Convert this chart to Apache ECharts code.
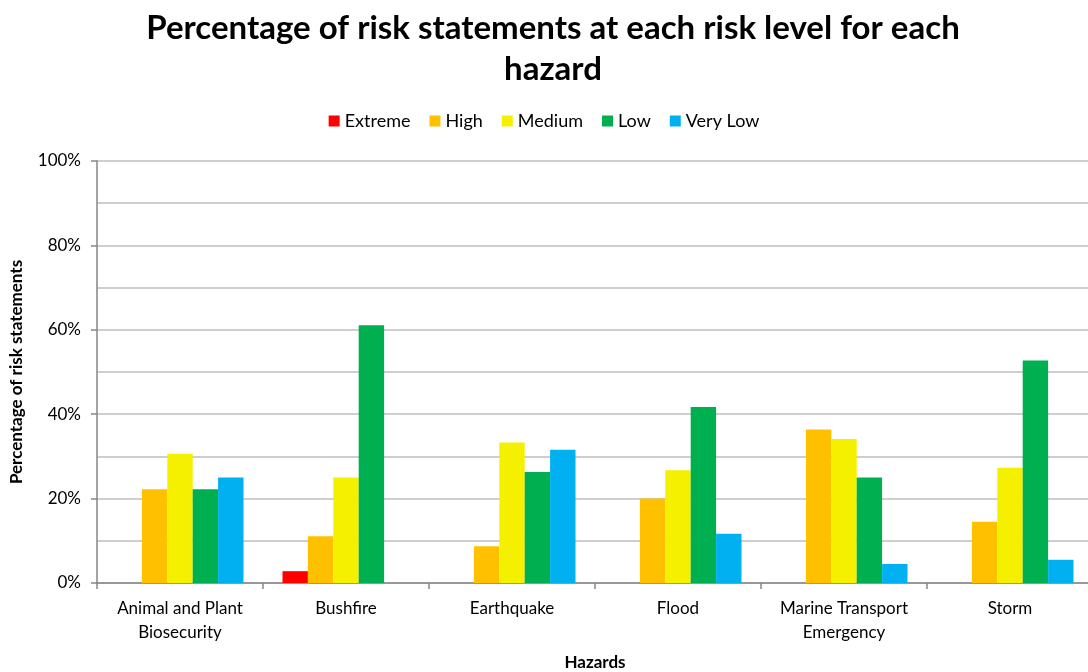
<!DOCTYPE html>
<html>
<head>
<meta charset="utf-8">
<script src="https://cdn.jsdelivr.net/npm/echarts@6/dist/echarts.min.js"></script>
<style>
  html, body { margin: 0; padding: 0; background: #ffffff; }
  #chart { width: 1088px; height: 672px; }
</style>
</head>
<body>
<div id="chart"></div>
<script>
// Hazard categories (x axis)
const hazards = [
  'Animal and Plant\nBiosecurity',
  'Bushfire',
  'Earthquake',
  'Flood',
  'Marine Transport\nEmergency',
  'Storm'
];

// Percentage of risk statements per risk level, one value per hazard
const extreme = [0, 2.8, 0, 0, 0, 0];
const high    = [22.2, 11.1, 8.7, 20.0, 36.4, 14.5];
const medium  = [30.6, 25.0, 33.3, 26.7, 34.1, 27.3];
const low     = [22.2, 61.1, 26.3, 41.7, 25.0, 52.7];
const veryLow = [25.0, 0, 31.6, 11.7, 4.5, 5.5];

const levelNames = ['Extreme', 'High', 'Medium', 'Low', 'Very Low'];
const levelColors = ['#FF0000', '#FFC000', '#F5F000', '#00B050', '#00B0F0'];
const levelData = [extreme, high, medium, low, veryLow];

const FONT = 'Lato';

const chart = echarts.init(document.getElementById('chart'));

chart.setOption({
  animation: false,
  backgroundColor: '#ffffff',
  textStyle: { fontFamily: FONT },
  title: {
    text: 'Percentage of risk statements at each risk level for each\nhazard',
    left: 548,
    textAlign: 'center',
    top: 3,
    textStyle: {
      fontFamily: FONT,
      fontSize: 33,
      fontWeight: 'bold',
      color: '#000000',
      lineHeight: 41
    }
  },
  legend: {
    top: 107,
    left: 'center',
    icon: 'rect',
    itemWidth: 11,
    itemHeight: 11,
    itemGap: 19,
    textStyle: { fontFamily: FONT, fontSize: 18, color: '#000000' },
    data: levelNames
  },
  grid: {
    left: 97,
    top: 161,
    width: 996,
    height: 422,
    containLabel: false,
    outerBoundsMode: 'none'
  },
  xAxis: {
    type: 'category',
    data: hazards,
    name: 'Hazards',
    nameLocation: 'middle',
    nameGap: 71,
    nameTextStyle: { fontFamily: FONT, fontSize: 17, fontWeight: 'bold', color: '#000000' },
    axisLine: { lineStyle: { color: '#868686', width: 1.5 } },
    axisTick: { show: true, length: 6, lineStyle: { color: '#868686', width: 1.5 } },
    axisLabel: {
      fontFamily: FONT,
      fontSize: 17,
      color: '#000000',
      margin: 14,
      lineHeight: 24,
      interval: 0
    }
  },
  yAxis: {
    type: 'value',
    min: 0,
    max: 100,
    interval: 20,
    name: 'Percentage of risk statements',
    nameLocation: 'middle',
    nameGap: 72,
    nameTextStyle: { fontFamily: FONT, fontSize: 17, fontWeight: 'bold', color: '#000000' },
    axisLine: { show: true, lineStyle: { color: '#868686', width: 1.5 } },
    axisTick: { show: true, length: 6, lineStyle: { color: '#868686', width: 1.5 } },
    axisLabel: {
      formatter: '{value}%',
      fontFamily: FONT,
      fontSize: 17,
      color: '#000000',
      margin: 16
    },
    splitLine: { show: true, lineStyle: { color: '#BFBFBF', width: 1.5 } },
    minorTick: { show: false, splitNumber: 2 },
    minorSplitLine: { show: true, lineStyle: { color: '#BFBFBF', width: 1.5 } }
  },
  series: levelNames.map((name, i) => ({
    name: name,
    type: 'bar',
    data: levelData[i],
    barGap: '0%',
    barCategoryGap: '23.5%',
    itemStyle: { color: levelColors[i] }
  }))
});
</script>
</body>
</html>
